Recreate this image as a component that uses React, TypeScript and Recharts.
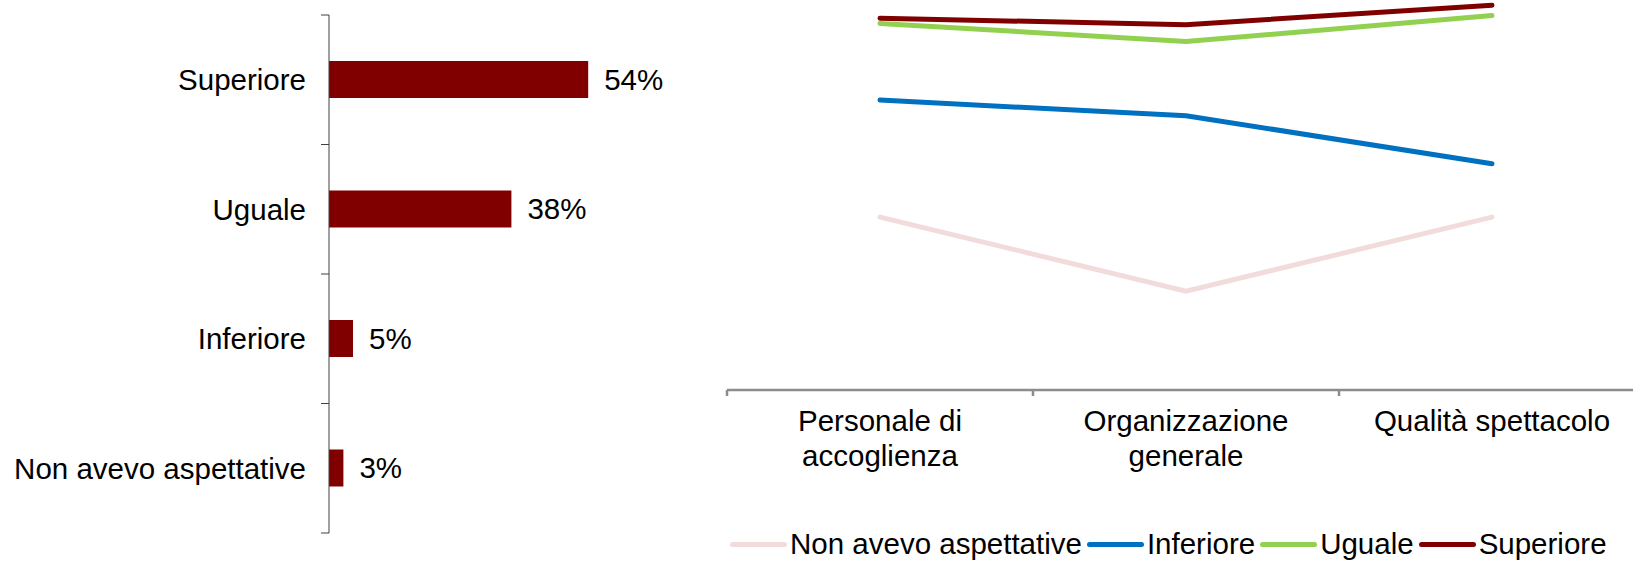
import {
  Bar,
  BarChart,
  LabelList,
  Legend,
  Line,
  LineChart,
  XAxis,
  YAxis
} from 'recharts'

// Aspettative rispetto allo spettacolo (%)
const EXPECTATION_LABELS = ['Superiore', 'Uguale', 'Inferiore', 'Non avevo aspettative']
const EXPECTATION_SHARES = [54, 38, 5, 3]

// Giudizio medio per aspetto, diviso per aspettativa
const ASPECTS = ['Personale di accoglienza', 'Organizzazione generale', 'Qualità spettacolo']
const NON_AVEVO = [7.33, 6.76, 7.33]
const INFERIORE = [8.23, 8.11, 7.74]
const UGUALE = [8.82, 8.68, 8.88]
const SUPERIORE = [8.86, 8.81, 8.96]

const FONT = '"Liberation Sans", Arial, sans-serif'
const FONT_SIZE = 29.5
const DARK_RED = '#800000'

// order matters: last one is drawn on top
const SERIES = [
  { key: 'nonAvevo', name: 'Non avevo aspettative', color: '#f2dcdb' },
  { key: 'inferiore', name: 'Inferiore', color: '#0070c0' },
  { key: 'uguale', name: 'Uguale', color: '#92d050' },
  { key: 'superiore', name: 'Superiore', color: DARK_RED }
]

const BAR_W = 700
const BAR_H = 562
const BAR_MARGIN = { top: 15, right: 83, bottom: 29, left: 0 }
const BAR_AXIS_W = 329
const LABEL_GAP = 23

const LINE_W = 960
const LINE_H = 562
const LINE_MARGIN = { top: 0, right: 15, bottom: 72, left: 27 }
const X_AXIS_H = 100
const X_TICK_GAP = 20
const X_LABEL_MAX = 280
const X_LINE_HEIGHT = 35

const barData = EXPECTATION_LABELS.map((name, i) => ({ name, value: EXPECTATION_SHARES[i] }))

const lineData = ASPECTS.map((name, i) => ({
  name,
  nonAvevo: NON_AVEVO[i],
  inferiore: INFERIORE[i],
  uguale: UGUALE[i],
  superiore: SUPERIORE[i]
}))

const barBand = (BAR_H - BAR_MARGIN.top - BAR_MARGIN.bottom) / barData.length
const lineBand = (LINE_W - LINE_MARGIN.left - LINE_MARGIN.right) / lineData.length

let measureCtx: CanvasRenderingContext2D | null = null

function wrapLabel(label: string, maxWidth: number): string[] {
  if (!measureCtx) {
    measureCtx = document.createElement('canvas').getContext('2d')
  }
  if (!measureCtx) {
    return [label]
  }
  measureCtx.font = `${FONT_SIZE}px ${FONT}`
  const lines: string[] = []
  let current = ''
  for (const word of label.split(' ')) {
    const candidate = current ? `${current} ${word}` : word
    if (current && measureCtx.measureText(candidate).width > maxWidth) {
      lines.push(current)
      current = word
    } else {
      current = candidate
    }
  }
  if (current) {
    lines.push(current)
  }
  return lines
}

// category labels on the left, with tick marks on the band edges
function BarTick(props: any) {
  const { x, y, payload, index } = props
  const axisX = x + LABEL_GAP
  const top = y - barBand / 2
  return (
    <g>
      <line x1={axisX - 8} x2={axisX} y1={top} y2={top} stroke="#404040" strokeWidth={1} />
      {index === barData.length - 1 && (
        <line x1={axisX - 8} x2={axisX} y1={top + barBand} y2={top + barBand} stroke="#404040" strokeWidth={1} />
      )}
      <text x={x} y={y} dy="0.35em" textAnchor="end" fontSize={FONT_SIZE} fontFamily={FONT} fill="#000">
        {payload.value}
      </text>
    </g>
  )
}

// wrapped aspect names under the axis, tick marks between categories
function AspectTick(props: any) {
  const { x, y, payload } = props
  const axisY = y - X_TICK_GAP
  const left = x - lineBand / 2
  const lines = wrapLabel(String(payload.value), X_LABEL_MAX)
  return (
    <g>
      <line x1={left} x2={left} y1={axisY} y2={axisY + 6} stroke="#8c8c8c" strokeWidth={2.5} />
      <text x={x} y={y} textAnchor="middle" fontSize={FONT_SIZE} fontFamily={FONT} fill="#000">
        {lines.map((line, i) => (
          <tspan key={line} x={x} dy={i === 0 ? '0.71em' : X_LINE_HEIGHT}>
            {line}
          </tspan>
        ))}
      </text>
    </g>
  )
}

function LineLegend() {
  return (
    <div
      style={{
        display: 'flex',
        alignItems: 'center',
        fontFamily: FONT,
        fontSize: FONT_SIZE,
        lineHeight: '34px',
        whiteSpace: 'nowrap'
      }}
    >
      {SERIES.map((s) => (
        <div key={s.key} style={{ display: 'flex', alignItems: 'center', marginRight: 5 }}>
          <span
            style={{ display: 'inline-block', width: 57, height: 5, borderRadius: 3, background: s.color, marginRight: 3 }}
          />
          <span style={{ color: '#000' }}>{s.name}</span>
        </div>
      ))}
    </div>
  )
}

export default function App() {
  return (
    <div
      style={{
        position: 'absolute',
        top: 0,
        left: 0,
        width: 1633,
        height: 562,
        overflow: 'hidden',
        background: '#fff'
      }}
    >
      <div style={{ position: 'absolute', left: 0, top: 0 }}>
        <BarChart width={BAR_W} height={BAR_H} data={barData} layout="vertical" margin={BAR_MARGIN}>
          <XAxis type="number" domain={[0, 60]} hide />
          <YAxis
            type="category"
            dataKey="name"
            width={BAR_AXIS_W}
            axisLine={{ stroke: '#404040', strokeWidth: 1 }}
            tickLine={false}
            tickSize={0}
            tickMargin={LABEL_GAP}
            tick={<BarTick />}
            interval={0}
          />
          <Bar dataKey="value" fill={DARK_RED} barSize={37} isAnimationActive={false}>
            <LabelList
              dataKey="value"
              position="right"
              offset={16}
              formatter={(v: any) => `${v}%`}
              fill="#000"
              fontSize={FONT_SIZE}
              fontFamily={FONT}
            />
          </Bar>
        </BarChart>
      </div>
      <div style={{ position: 'absolute', left: 700, top: 0 }}>
        <LineChart width={LINE_W} height={LINE_H} data={lineData} margin={LINE_MARGIN}>
          <XAxis
            dataKey="name"
            scale="band"
            height={X_AXIS_H}
            axisLine={{ stroke: '#8c8c8c', strokeWidth: 2.5 }}
            tickLine={false}
            tickSize={0}
            tickMargin={X_TICK_GAP}
            tick={<AspectTick />}
            interval={0}
          />
          <YAxis type="number" domain={[6, 9]} hide />
          <Legend
            verticalAlign="middle"
            layout="horizontal"
            content={<LineLegend />}
            wrapperStyle={{ top: 527, left: 30, width: 'auto' }}
          />
          {SERIES.map((s) => (
            <Line
              key={s.key}
              type="linear"
              dataKey={s.key}
              name={s.name}
              stroke={s.color}
              strokeWidth={5}
              strokeLinecap="round"
              dot={false}
              isAnimationActive={false}
            />
          ))}
        </LineChart>
      </div>
    </div>
  )
}
